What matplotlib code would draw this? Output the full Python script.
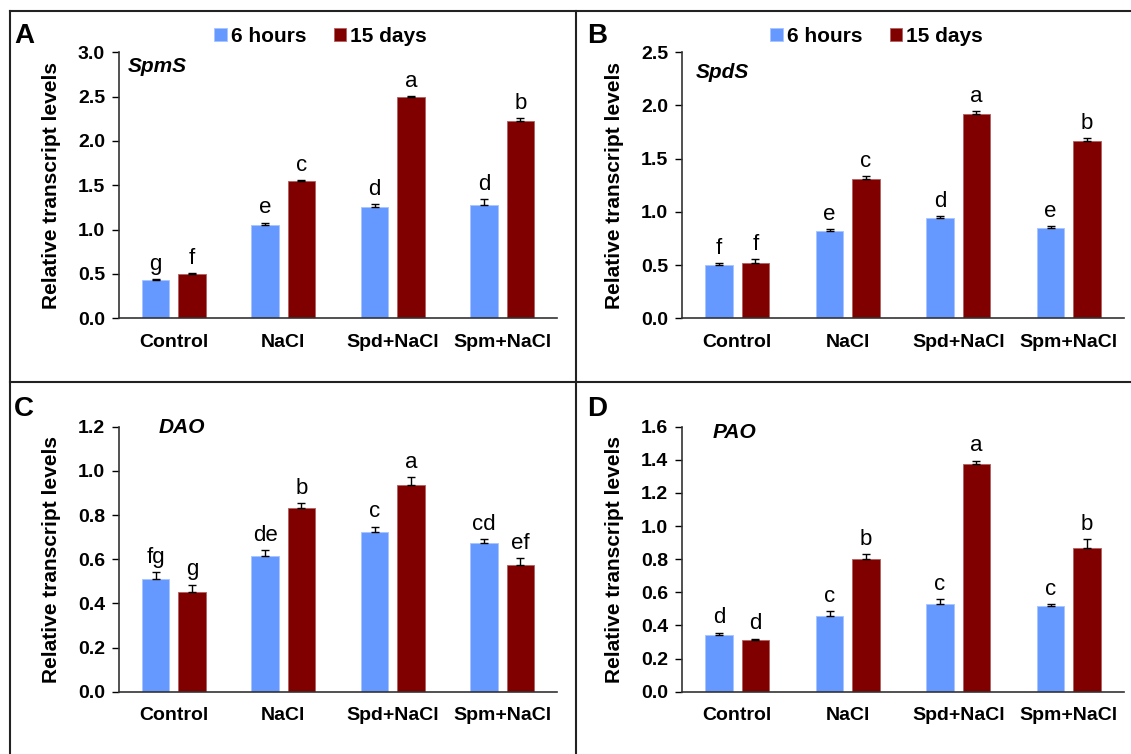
import numpy as np
import matplotlib.pyplot as plt
from matplotlib.lines import Line2D

plt.rcParams['font.family'] = ['Liberation Sans', 'DejaVu Sans']

categories = ['Control', 'NaCl', 'Spd+NaCl', 'Spm+NaCl']
series_names = ['6 hours', '15 days']

# SpmS
spms_6h = [0.43, 1.05, 1.26, 1.28]
spms_15d = [0.50, 1.55, 2.50, 2.22]
spms_6h_err = [0.01, 0.03, 0.03, 0.06]
spms_15d_err = [0.01, 0.01, 0.01, 0.04]
spms_6h_let = ['g', 'e', 'd', 'd']
spms_15d_let = ['f', 'c', 'a', 'b']

# SpdS
spds_6h = [0.50, 0.82, 0.94, 0.85]
spds_15d = [0.52, 1.31, 1.92, 1.67]
spds_6h_err = [0.02, 0.02, 0.02, 0.02]
spds_15d_err = [0.04, 0.03, 0.03, 0.02]
spds_6h_let = ['f', 'e', 'd', 'e']
spds_15d_let = ['f', 'c', 'a', 'b']

# DAO
dao_6h = [0.51, 0.615, 0.725, 0.675]
dao_15d = [0.45, 0.83, 0.935, 0.575]
dao_6h_err = [0.03, 0.025, 0.023, 0.016]
dao_15d_err = [0.035, 0.025, 0.035, 0.03]
dao_6h_let = ['fg', 'de', 'c', 'cd']
dao_15d_let = ['g', 'b', 'a', 'ef']

# PAO
pao_6h = [0.34, 0.455, 0.53, 0.515]
pao_15d = [0.315, 0.80, 1.375, 0.87]
pao_6h_err = [0.017, 0.03, 0.03, 0.014]
pao_15d_err = [0.006, 0.03, 0.02, 0.052]
pao_6h_let = ['d', 'c', 'c', 'c']
pao_15d_let = ['d', 'b', 'a', 'b']

blue = '#6699FF'
red = '#800000'

W, H = 1131, 754


def box(l, r, t, b):
    return [l / W, 1 - b / H, (r - l) / W, (b - t) / H]


def panel(fig, rect, v6, v15, e6, e15, l6, l15, ymax, step, gene, gpos, letter, lpos, legend):
    ax = fig.add_axes(rect)
    x = np.arange(len(categories)) + 0.5
    w = 0.25
    off = 0.165
    ekw = dict(ecolor='black', capsize=3, elinewidth=1, capthick=1)
    ax.bar(x - off, v6, w, color=blue, edgecolor='#a8c4ff', linewidth=0.6,
           yerr=[np.zeros(4), e6], error_kw=ekw, label=series_names[0])
    ax.bar(x + off, v15, w, color=red, edgecolor='#b06060', linewidth=0.6,
           yerr=[np.zeros(4), e15], error_kw=ekw, label=series_names[1])
    for xi, v, e, t in zip(x - off, v6, e6, l6):
        ax.annotate(t, (xi, v + e), xytext=(0, 3), textcoords='offset points',
                    ha='center', va='bottom', fontsize=16)
    for xi, v, e, t in zip(x + off, v15, e15, l15):
        ax.annotate(t, (xi, v + e), xytext=(0, 3), textcoords='offset points',
                    ha='center', va='bottom', fontsize=16)
    ax.set_xlim(0, 4)
    ax.set_ylim(0, ymax)
    ticks = np.arange(0, ymax + step / 2, step)
    ax.set_yticks(ticks)
    ax.set_yticklabels(['%.1f' % t for t in ticks], fontsize=14, fontweight='bold')
    ax.set_xticks(x)
    ax.set_xticklabels(categories, fontsize=14, fontweight='bold')
    ax.tick_params(axis='x', length=0, pad=11)
    ax.tick_params(axis='y', length=5, width=1, pad=5)
    for s in ['top', 'right']:
        ax.spines[s].set_visible(False)
    for s in ['left', 'bottom']:
        ax.spines[s].set_color('#333333')
        ax.spines[s].set_linewidth(1.2)
    ax.set_ylabel('Relative transcript levels', fontsize=15, fontweight='bold', labelpad=12)
    fig.text(gpos[0] / W, 1 - gpos[1] / H, gene, fontsize=15, fontweight='bold',
             fontstyle='italic', ha='left', va='center')
    fig.text(lpos[0] / W, 1 - lpos[1] / H, letter, fontsize=20, fontweight='bold',
             ha='left', va='center')
    if legend is not None:
        ax.legend(loc='center left', bbox_to_anchor=(legend[0] / W, 1 - legend[1] / H),
                  bbox_transform=fig.transFigure, ncol=2, frameon=False,
                  prop=dict(size=15, weight='bold'), handlelength=0.6, handleheight=0.6,
                  handletextpad=0.2, columnspacing=1.3, borderpad=0)
    return ax


fig = plt.figure(figsize=(W / 100, H / 100), dpi=100)

panel(fig, box(119, 557, 52.3, 318.3), spms_6h, spms_15d, spms_6h_err, spms_15d_err,
      spms_6h_let, spms_15d_let, 3.0, 0.5, 'SpmS', (128, 66), 'A', (14, 36), (204, 36))
panel(fig, box(682, 1124, 52.3, 318.3), spds_6h, spds_15d, spds_6h_err, spds_15d_err,
      spds_6h_let, spds_15d_let, 2.5, 0.5, 'SpdS', (696, 73), 'B', (587, 36), (760, 36))
panel(fig, box(119, 557, 426.7, 691.7), dao_6h, dao_15d, dao_6h_err, dao_15d_err,
      dao_6h_let, dao_15d_let, 1.2, 0.2, 'DAO', (159, 428), 'C', (14, 409), None)
panel(fig, box(682, 1124, 426.7, 691.7), pao_6h, pao_15d, pao_6h_err, pao_15d_err,
      pao_6h_let, pao_15d_let, 1.6, 0.2, 'PAO', (713, 432), 'D', (587, 409), None)

# panel frame lines
lk = dict(color='#222222', linewidth=1.5, transform=fig.transFigure)
fig.add_artist(Line2D([10 / W, 1], [1 - 11 / H, 1 - 11 / H], **lk))
fig.add_artist(Line2D([10 / W, 10 / W], [0, 1 - 11 / H], **lk))
fig.add_artist(Line2D([576 / W, 576 / W], [0, 1 - 11 / H], **lk))
fig.add_artist(Line2D([10 / W, 1], [1 - 382 / H, 1 - 382 / H], **lk))

fig.savefig('out.png', dpi=100)
